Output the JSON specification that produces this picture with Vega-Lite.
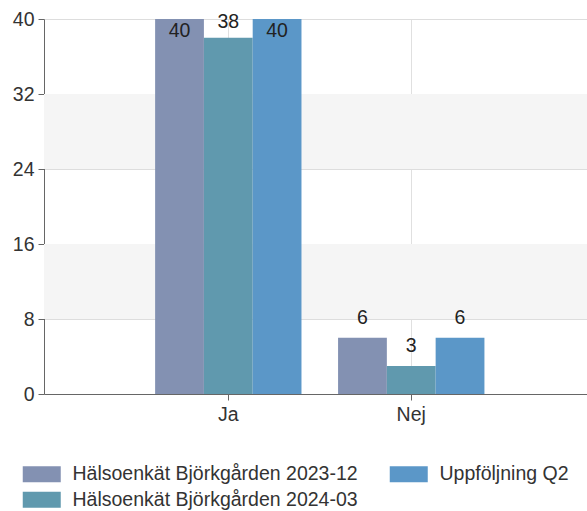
{
  "$schema": "https://vega.github.io/schema/vega-lite/v6.json",
  "autosize": {"type": "none"},
  "padding": {"left": 44, "top": 19, "right": 0, "bottom": 117},
  "width": 543,
  "height": 375,
  "background": "white",
  "config": {
    "view": {"stroke": null},
    "font": "Liberation Sans",
    "axis": {"labelFont": "Liberation Sans", "labelColor": "#333333", "labelFontSize": 19.5}
  },
  "datasets": {
    "main": [
      {"svar": "Ja", "serie": "Hälsoenkät Björkgården 2023-12", "antal": 40},
      {"svar": "Ja", "serie": "Hälsoenkät Björkgården 2024-03", "antal": 38},
      {"svar": "Ja", "serie": "Uppföljning Q2", "antal": 40},
      {"svar": "Nej", "serie": "Hälsoenkät Björkgården 2023-12", "antal": 6},
      {"svar": "Nej", "serie": "Hälsoenkät Björkgården 2024-03", "antal": 3},
      {"svar": "Nej", "serie": "Uppföljning Q2", "antal": 6}
    ],
    "bands": [
      {"from": 8, "to": 16},
      {"from": 24, "to": 32}
    ]
  },
  "layer": [
    {
      "data": {"name": "bands"},
      "mark": {"type": "rect", "color": "#f5f5f5"},
      "encoding": {
        "x": {"value": 0},
        "x2": {"value": "width"},
        "y": {
          "field": "from", "type": "quantitative",
          "scale": {"domain": [0, 40], "nice": false},
          "axis": {
            "title": null, "values": [0, 8, 16, 24, 32, 40], "grid": true,
            "gridColor": "#dddddd", "domainColor": "#666666", "tickColor": "#666666",
            "tickSize": 6, "labelPadding": 4, "zindex": 0
          }
        },
        "y2": {"field": "to"}
      }
    },
    {
      "data": {"name": "main"},
      "layer": [
        {
          "mark": {"type": "bar", "clip": true},
          "encoding": {
            "x": {
              "field": "svar", "type": "nominal", "sort": ["Ja", "Nej"],
              "scale": {"paddingInner": 0.2, "paddingOuter": 0.584, "align": 0.52},
              "axis": {
                "title": null, "labelAngle": 0, "grid": true, "gridColor": "#e0e0e0",
                "domainColor": "#666666", "tickColor": "#666666", "tickSize": 6,
                "labelPadding": 5, "zindex": 0
              }
            },
            "xOffset": {
              "field": "serie", "type": "nominal",
              "sort": ["Hälsoenkät Björkgården 2023-12", "Hälsoenkät Björkgården 2024-03", "Uppföljning Q2"],
              "scale": {"paddingInner": 0, "paddingOuter": 0}
            },
            "y": {"field": "antal", "type": "quantitative"},
            "color": {
              "field": "serie", "type": "nominal",
              "scale": {
                "domain": ["Hälsoenkät Björkgården 2023-12", "Uppföljning Q2", "Hälsoenkät Björkgården 2024-03"],
                "range": ["#8391b2", "#5b97c8", "#6099ae"]
              },
              "legend": {
                "title": null, "orient": "none", "legendX": -23, "legendY": 445,
                "direction": "horizontal", "columns": 2, "columnPadding": 30, "rowPadding": 5,
                "symbolType": "M-1,-1H3.75V1H-1Z", "symbolSize": 256,
                "symbolStrokeWidth": 0, "symbolOpacity": 1,
                "labelFont": "Liberation Sans", "labelFontSize": 19.5, "labelColor": "#333333",
                "labelOffset": 32, "labelLimit": 400
              }
            }
          }
        },
        {
          "transform": [{"filter": "datum.antal < 38"}],
          "mark": {"type": "text", "dy": -19.6, "fontSize": 19.5, "color": "#222222", "baseline": "middle"},
          "encoding": {
            "x": {"field": "svar", "type": "nominal", "sort": ["Ja", "Nej"]},
            "xOffset": {"field": "serie", "type": "nominal", "sort": ["Hälsoenkät Björkgården 2023-12", "Hälsoenkät Björkgården 2024-03", "Uppföljning Q2"]},
            "y": {"field": "antal", "type": "quantitative"},
            "text": {"field": "antal", "type": "quantitative"}
          }
        },
        {
          "transform": [{"filter": "datum.antal == 38"}],
          "mark": {"type": "text", "dy": -16, "fontSize": 19.5, "color": "#222222", "baseline": "middle"},
          "encoding": {
            "x": {"field": "svar", "type": "nominal", "sort": ["Ja", "Nej"]},
            "xOffset": {"field": "serie", "type": "nominal", "sort": ["Hälsoenkät Björkgården 2023-12", "Hälsoenkät Björkgården 2024-03", "Uppföljning Q2"]},
            "y": {"field": "antal", "type": "quantitative"},
            "text": {"field": "antal", "type": "quantitative"}
          }
        },
        {
          "transform": [{"filter": "datum.antal > 38"}],
          "mark": {"type": "text", "dy": 12, "fontSize": 19.5, "color": "#222222", "baseline": "middle"},
          "encoding": {
            "x": {"field": "svar", "type": "nominal", "sort": ["Ja", "Nej"]},
            "xOffset": {"field": "serie", "type": "nominal", "sort": ["Hälsoenkät Björkgården 2023-12", "Hälsoenkät Björkgården 2024-03", "Uppföljning Q2"]},
            "y": {"field": "antal", "type": "quantitative"},
            "text": {"field": "antal", "type": "quantitative"}
          }
        }
      ]
    }
  ]
}
